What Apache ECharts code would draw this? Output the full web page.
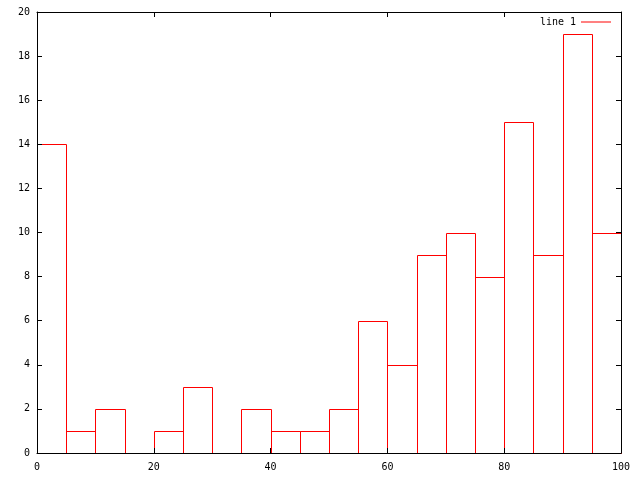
<!DOCTYPE html>
<html><head><meta charset="utf-8">
<script src="https://cdn.jsdelivr.net/npm/echarts@6/dist/echarts.min.js"></script>
<style>html,body{margin:0;padding:0;background:#fff}#c{width:640px;height:480px}</style>
</head><body><div id="c"></div>
<script>
const binStarts = [0,5,10,15,20,25,30,35,40,45,50,55,60,65,70,75,80,85,90,95];
const counts = [14,1,2,0,1,3,0,2,1,1,2,6,4,9,10,8,15,9,19,10];
const binWidth = 5;
const seriesName = 'line 1';

const data = binStarts.map((s,i)=>[s, s+binWidth, counts[i]]);
const font = 'DejaVu Sans Mono';
const chart = echarts.init(document.getElementById('c'), null, {renderer:'canvas'});
function axisCommon(){
  return {
    axisLine:{show:true, onZero:false, lineStyle:{color:'#000', width:1}},
    axisTick:{show:true, inside:true, length:5, lineStyle:{color:'#000'}},
    splitLine:{show:false},
    z: 5
  };
}
chart.setOption({
  animation:false,
  backgroundColor:'#fff',
  grid:{left:37, right:19, top:12, bottom:27, containLabel:false},
  legend:{
    right:24, top:12, align:'right', itemWidth:30, itemHeight:1,
    textStyle:{fontFamily:font, fontSize:10, color:'#000'},
    data:[{name:seriesName, icon:'rect', itemStyle:{color:'#ff0000', borderWidth:0}}]
  },
  xAxis:[
    Object.assign({type:'value', min:0, max:100, interval:20, position:'bottom',
      axisLabel:{fontFamily:font, fontSize:10, color:'#000', margin:9}}, axisCommon()),
    Object.assign({type:'value', min:0, max:100, interval:20, position:'top',
      axisLabel:{show:false}}, axisCommon())
  ],
  yAxis:[
    Object.assign({type:'value', min:0, max:20, interval:2, position:'left',
      axisLabel:{fontFamily:font, fontSize:10, color:'#000', margin:7}}, axisCommon()),
    Object.assign({type:'value', min:0, max:20, interval:2, position:'right',
      axisLabel:{show:false}}, axisCommon())
  ],
  series:[{
    name:seriesName,
    type:'custom',
    z:2,
    data:data,
    encode:{x:[0,1], y:2},
    renderItem:function(params, api){
      const v = api.value(2);
      if (!v) return null;
      const p0 = api.coord([api.value(0), 0]);
      const p1 = api.coord([api.value(1), v]);
      return {
        type:'rect',
        shape:{x:Math.round(p0[0])+0.5, y:Math.round(p1[1])+0.5, width:Math.round(p1[0])-Math.round(p0[0]), height:Math.round(p0[1])-Math.round(p1[1])},
        style:{fill:'none', stroke:'#ff0000', lineWidth:1}
      };
    }
  }]
});
</script></body></html>
